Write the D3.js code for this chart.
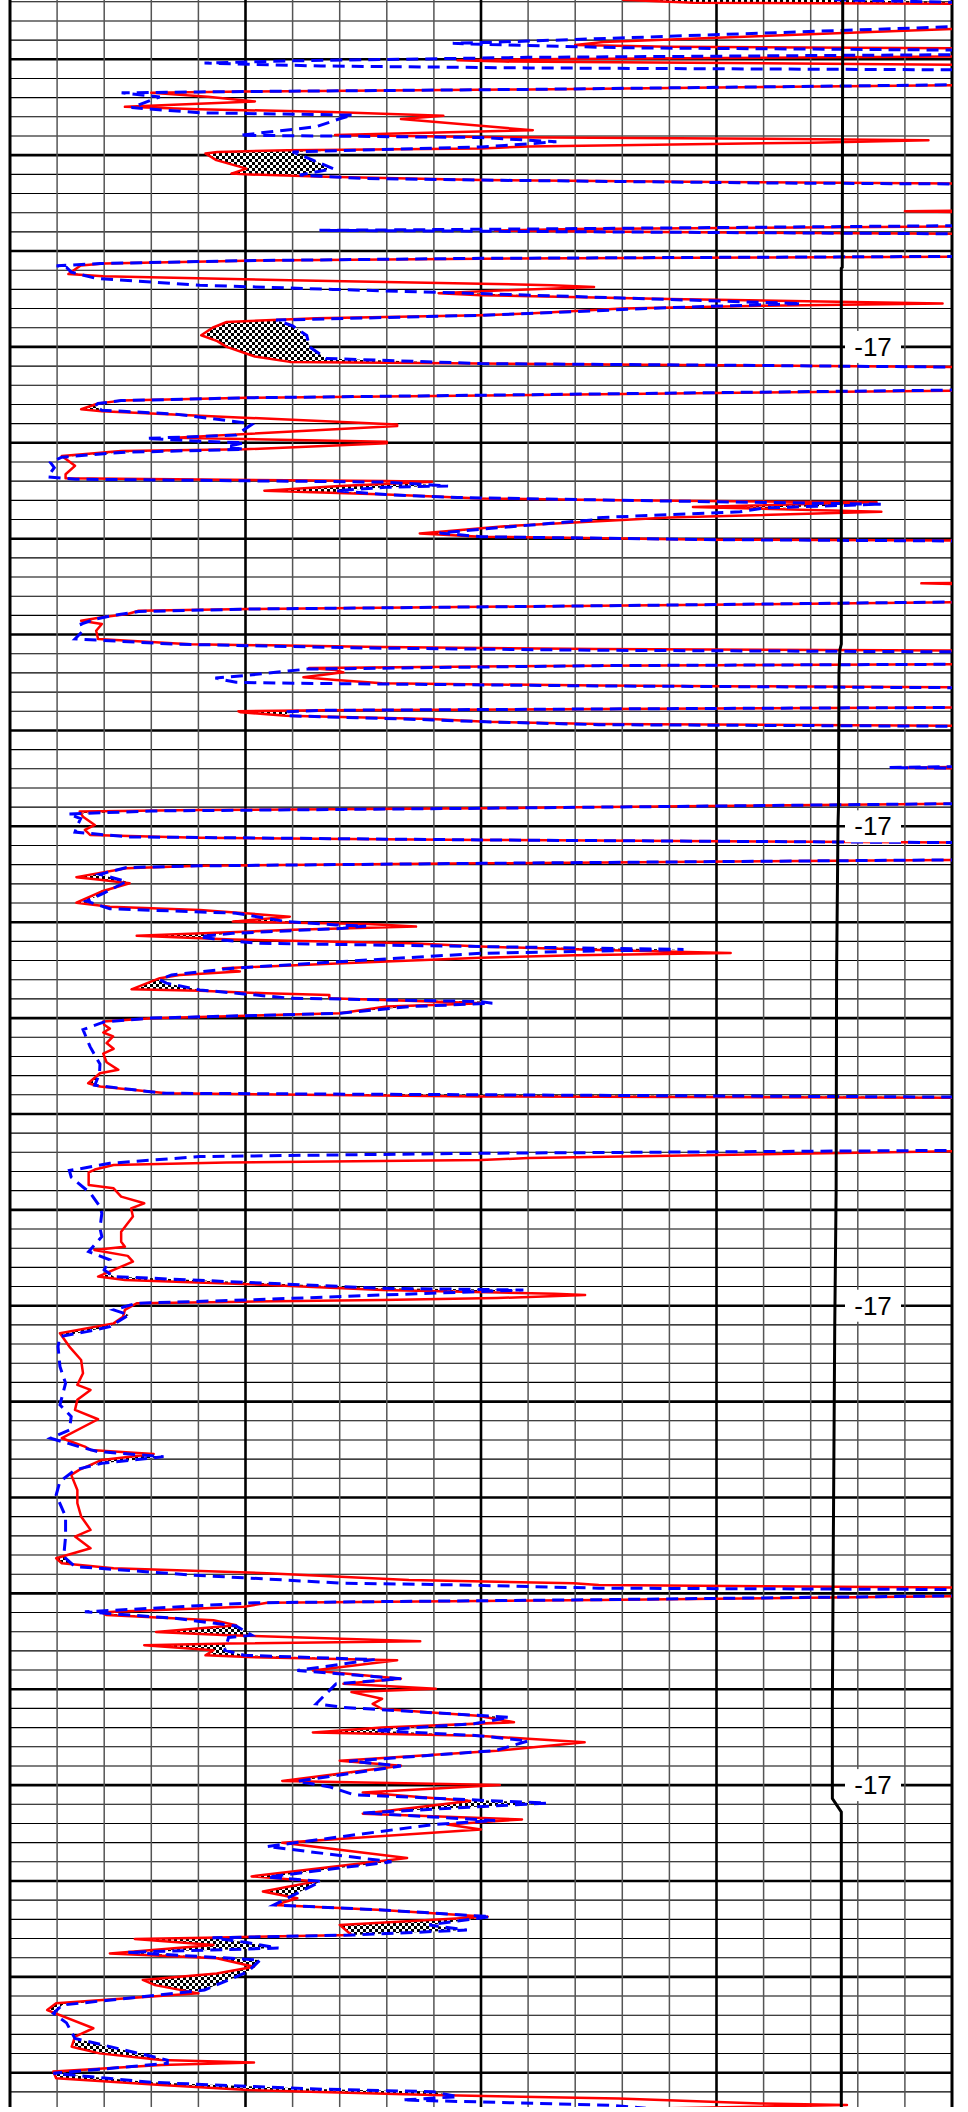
<!DOCTYPE html>
<html>
<head>
<meta charset="utf-8">
<script src="https://cdn.jsdelivr.net/npm/d3@7/dist/d3.min.js"></script>
<style>
  body { margin: 0; background: #fff; }
  svg { display: block; }
</style>
</head>
<body>
<svg id="chart" width="968" height="2112"></svg>
<script>
const redCurve = [
  [1706.9, 13.0], [1707.05, 14.5], [1707.12, 21.5],
  [1708.3, 21.5], [1708.42, 20], [1709.1, 12.6], [1709.25, 12.0], [1709.35, 14], [1709.42, 20], [1709.47, 21.5],
  [1709.75, 21.5], [1709.85, 20], [1710.0, 11], [1710.05, 9.5], [1710.12, 10.5], [1710.28, 20], [1710.33, 21.5],
  [1711.3, 21.5], [1711.35, 20], [1711.57, 11], [1711.68, 5], [1711.75, 3.0], [1711.95, 4.2], [1712.2, 5.2], [1712.32, 4.0],
  [1712.48, 2.44], [1712.6, 4.0], [1712.75, 6.8], [1712.95, 9.2], [1713.12, 8.3], [1713.7, 11.1], [1713.95, 6.9], [1714.05, 10],
  [1714.15, 16], [1714.22, 19.5], [1714.35, 17], [1714.55, 11], [1714.65, 10], [1714.75, 5.9], [1714.83, 4.4], [1714.91, 4.15],
  [1715.26, 4.38], [1715.7, 5.02], [1715.96, 4.7], [1716.0, 5.0], [1716.13, 6.7], [1716.3, 10], [1716.4, 15], [1716.48, 20], [1716.53, 21.5],
  [1717.85, 21.5], [1717.93, 19.0], [1718.0, 21.5],
  [1718.65, 21.5], [1718.72, 20], [1718.85, 12], [1718.93, 10.3], [1719.0, 13], [1719.1, 20], [1719.15, 21.5],
  [1720.25, 21.5], [1720.3, 20], [1720.4, 10], [1720.5, 5], [1720.65, 2], [1720.75, 1.5], [1721.2, 1.24], [1721.31, 1.98],
  [1721.52, 5.94], [1721.7, 10], [1721.78, 11.5], [1721.87, 12.4], [1722.05, 10.5], [1722.2, 9.1], [1722.3, 10], [1722.5, 14],
  [1722.74, 19.8], [1722.85, 16], [1723.0, 13], [1723.26, 11], [1723.35, 10], [1723.5, 6.5], [1723.7, 4.6], [1724.0, 4.3],
  [1724.39, 4.06], [1724.7, 4.4], [1725.0, 4.6], [1725.5, 5.2], [1725.78, 5.94], [1725.87, 10], [1725.95, 15], [1726.05, 20], [1726.1, 21.5],
  [1727.2, 21.5], [1727.28, 20], [1727.47, 12.5], [1727.65, 5.05], [1727.8, 2.36], [1727.95, 1.87], [1728.25, 1.51], [1728.35, 1.95],
  [1728.69, 4.97], [1729.04, 8.22], [1729.12, 8.22], [1729.35, 6.5], [1729.73, 3.5], [1729.95, 8.0], [1730.02, 8.0], [1730.34, 4.97],
  [1730.43, 2.36], [1730.69, 1.1], [1731.2, 1.38], [1731.64, 1.18], [1731.85, 1.18], [1731.9, 3.5], [1731.99, 7.98], [1732.03, 8.96],
  [1732.25, 7.0], [1732.5, 5.4], [1732.7, 8.0], [1732.9, 10.0], [1733.0, 13], [1733.1, 18.4], [1733.35, 14.5], [1733.6, 18.5],
  [1733.9, 14], [1734.35, 10.5], [1734.73, 8.7], [1734.9, 10], [1735.05, 15], [1735.1, 20], [1735.15, 21.5],
  [1737.25, 21.5], [1737.33, 19.35], [1737.42, 21.5],
  [1738.28, 21.5], [1738.32, 20], [1738.5, 12.5], [1738.67, 5.05], [1738.76, 2.73], [1738.93, 2.5], [1739.1, 1.95], [1739.28, 1.51],
  [1739.45, 1.95], [1739.8, 1.83], [1740.23, 1.87], [1740.5, 3.83], [1740.65, 7.9], [1740.75, 12.5], [1740.83, 20], [1740.88, 21.5],
  [1741.5, 21.5], [1741.55, 20], [1741.62, 12.5], [1741.74, 6.35], [1741.85, 6.9], [1741.97, 7.08], [1742.23, 6.23], [1742.37, 6.92],
  [1742.54, 7.9], [1742.66, 12.5], [1742.75, 20], [1742.8, 21.5],
  [1743.75, 21.5], [1743.8, 20], [1743.88, 12.5], [1743.95, 6.7], [1744.0, 4.85], [1744.05, 4.9], [1744.23, 5.86], [1744.4, 8.96],
  [1744.55, 10.1], [1744.66, 12.5], [1744.75, 20], [1744.8, 21.5],
  [1746.85, 21.5], [1746.94, 19.0], [1747.02, 21.5],
  [1748.78, 21.5], [1748.82, 20], [1749.0, 12], [1749.06, 10], [1749.15, 4], [1749.23, 1.48], [1749.5, 1.55], [1749.93, 1.8],
  [1750.19, 1.59], [1750.45, 1.7], [1750.6, 4], [1750.71, 10], [1750.85, 20], [1750.9, 21.5],
  [1751.7, 21.5], [1751.75, 20], [1751.93, 10], [1752.06, 4.03], [1752.19, 2.47], [1752.65, 1.41], [1752.79, 1.91], [1752.97, 2.54],
  [1753.4, 1.94], [1753.98, 1.41], [1754.19, 2.12], [1754.36, 4.03], [1754.71, 5.94], [1754.97, 4.73], [1755.1, 7.6], [1755.23, 8.62],
  [1755.4, 6.0], [1755.71, 2.69], [1755.9, 4.73], [1756.1, 8.5], [1756.27, 10], [1756.45, 12.5], [1756.6, 15.3], [1756.72, 12],
  [1756.85, 10], [1757.14, 7.07], [1757.4, 4.52], [1757.57, 4.88], [1757.75, 3.6], [1757.92, 3.18], [1758.5, 2.58], [1758.57, 4.03],
  [1758.71, 5.44], [1758.8, 6.78], [1758.97, 6.78], [1759.23, 10.06], [1759.4, 8], [1759.75, 7.0], [1760.01, 3.0], [1760.18, 1.98],
  [1760.35, 2.0], [1760.55, 2.12], [1760.75, 1.98], [1760.95, 2.19], [1761.3, 2.05], [1761.6, 2.2], [1761.85, 1.98], [1762.3, 2.05],
  [1762.7, 2.3], [1762.88, 1.91], [1763.4, 1.66], [1763.57, 1.91], [1763.92, 3.32], [1764.09, 10], [1764.15, 20], [1764.2, 21.5],
  [1766.9, 21.5], [1766.95, 20], [1767.3, 11], [1767.4, 10], [1767.53, 4.6], [1767.66, 2.2], [1767.9, 1.8], [1768.05, 1.67],
  [1768.7, 1.67], [1768.88, 2.2], [1769.31, 2.36], [1769.66, 2.85], [1769.92, 2.57], [1770.35, 2.61], [1771.14, 2.36], [1771.66, 2.36],
  [1771.92, 2.44], [1772.09, 1.79], [1772.4, 2.5], [1772.7, 2.61], [1773.48, 1.87], [1773.66, 2.44], [1773.92, 5.46], [1774.18, 7.9],
  [1774.38, 11.56], [1774.44, 12.21], [1774.6, 10.34], [1774.7, 7.9], [1774.8, 4.64], [1774.87, 2.69], [1775.22, 2.44], [1775.57, 2.4],
  [1775.92, 2.2], [1776.44, 1.06], [1777.13, 1.26], [1777.83, 1.51], [1778.52, 1.55], [1779.13, 1.43], [1779.39, 1.71], [1779.91, 1.43],
  [1780.43, 1.38], [1780.92, 1.87], [1781.91, 1.1], [1782.35, 1.59], [1782.52, 1.71], [1782.73, 3.05], [1783.04, 1.95], [1783.56, 1.47],
  [1783.82, 1.3], [1784.61, 1.43], [1785.3, 1.43], [1785.99, 1.51], [1786.69, 1.71], [1787.04, 1.38], [1787.65, 1.71], [1788.17, 0.98],
  [1788.43, 1.1], [1788.69, 2.2], [1788.95, 5.46], [1789.3, 8.47], [1789.47, 11.97], [1789.56, 12.5], [1789.7, 20], [1789.75, 21.5],
  [1790.1, 21.5], [1790.15, 20], [1790.35, 12.5], [1790.49, 5.46], [1790.7, 4.97], [1790.96, 2.2], [1791.0, 1.95], [1791.13, 2.04],
  [1791.4, 4.32], [1791.66, 4.8], [1792.01, 3.1], [1792.18, 4.64], [1792.5, 8.71], [1792.62, 4.64], [1792.71, 2.85], [1792.97, 4.32],
  [1793.23, 4.15], [1793.32, 5.05], [1793.49, 8.22], [1794.02, 6.43], [1794.45, 8.3], [1794.72, 7.08], [1794.98, 9.04], [1795.15, 7.25],
  [1795.5, 7.9], [1795.76, 7.7], [1796.03, 7.9], [1796.38, 9.93], [1796.72, 10.7], [1797.0, 7.9], [1797.25, 6.43], [1797.42, 9.93],
  [1797.77, 12.2], [1798.21, 10.34], [1798.73, 7.0], [1798.99, 8.3], [1799.78, 5.78], [1799.99, 10.4], [1800.39, 7.49], [1800.83, 9.77],
  [1801.49, 7.49], [1801.79, 10.87], [1802.05, 9.28], [1802.32, 10.0], [1803.01, 5.78], [1803.8, 8.43], [1804.76, 5.13], [1805.02, 6.5],
  [1805.55, 5.37], [1805.9, 6.1], [1806.25, 5.62], [1806.51, 7.9], [1806.86, 10.14], [1807.29, 7.0], [1807.82, 7.25], [1807.96, 4.15],
  [1808.03, 2.65], [1808.34, 4.32], [1808.78, 2.12], [1809.03, 4.39], [1809.47, 5.18], [1809.82, 4.39], [1810.16, 2.82], [1810.43, 3.08],
  [1810.86, 4.0], [1811.38, 0.98], [1811.73, 0.79], [1812.68, 1.77], [1813.12, 1.38], [1813.64, 1.31], [1813.99, 1.9], [1814.34, 3.21],
  [1814.46, 5.18], [1814.6, 3.21], [1814.94, 0.92], [1815.29, 0.98], [1815.64, 3.21], [1815.9, 5.05], [1816.16, 8.98], [1816.34, 12.92],
  [1816.6, 15.93], [1816.68, 17.77], [1816.85, 14]
]

const blueCurve = [
  [1706.9, 17.5], [1707.1, 21.5],
  [1708.22, 21.5], [1708.3, 20], [1709.05, 11], [1709.17, 9.4], [1709.25, 10.5], [1709.4, 13], [1709.52, 20], [1709.57, 21.5],
  [1709.7, 21.5], [1709.76, 20], [1709.9, 11], [1710.08, 6.0], [1710.2, 4.13], [1710.35, 6.6], [1710.45, 11], [1710.55, 20], [1710.6, 21.5],
  [1711.28, 21.5], [1711.33, 20], [1711.57, 11], [1711.7, 4], [1711.75, 2.37], [1711.96, 3.18], [1712.52, 2.58], [1712.79, 4.03],
  [1712.91, 7.28], [1713.1, 7.0], [1713.52, 6.5], [1713.96, 4.88], [1714.08, 10], [1714.3, 11.6], [1714.5, 10.5], [1714.57, 10],
  [1714.83, 6.0], [1715.26, 6.43], [1715.7, 6.86], [1716.04, 6.15], [1716.22, 7.56], [1716.3, 10], [1716.45, 16], [1716.5, 20], [1716.55, 21.5],
  [1718.6, 21.5], [1718.68, 20], [1718.85, 11], [1718.92, 6.57], [1718.98, 11], [1719.1, 20], [1719.15, 21.5],
  [1720.22, 21.5], [1720.28, 20], [1720.38, 10], [1720.5, 5], [1720.65, 1.91], [1720.77, 0.99], [1720.85, 1.2], [1721.1, 1.3],
  [1721.43, 1.84], [1721.78, 4.03], [1722.0, 6.86], [1722.22, 10], [1722.45, 13], [1722.74, 16.8], [1722.95, 14], [1723.26, 11],
  [1723.35, 10], [1723.6, 5.65], [1723.9, 6.0], [1724.4, 6.3], [1725.0, 6.36], [1725.6, 6.71], [1725.87, 10], [1725.95, 15], [1726.05, 20], [1726.1, 21.5],
  [1727.18, 21.5], [1727.25, 20], [1727.45, 12.5], [1727.65, 5.05], [1727.8, 2.36], [1727.95, 1.87], [1728.08, 1.8], [1728.3, 1.95],
  [1728.5, 3.5], [1728.95, 4.97], [1729.05, 5.13], [1729.6, 4.8], [1729.77, 2.9], [1729.9, 3.9], [1730.0, 4.97], [1730.2, 4.6],
  [1730.34, 4.97], [1730.5, 2.36], [1730.75, 1.1], [1731.03, 0.86], [1731.3, 0.94], [1731.78, 0.8], [1731.9, 1.4], [1731.98, 4.97],
  [1732.05, 7.98], [1732.25, 9.3], [1732.32, 7.98], [1732.5, 6.92], [1732.7, 7.98], [1732.85, 9.5], [1733.0, 13], [1733.2, 18.5],
  [1733.4, 16], [1733.6, 15.5], [1733.9, 12.5], [1734.0, 12.5], [1734.4, 10.5], [1734.7, 9.12], [1734.9, 10], [1735.05, 15], [1735.12, 20], [1735.17, 21.5],
  [1738.26, 21.5], [1738.3, 20], [1738.5, 12.5], [1738.67, 5.05], [1738.8, 2.73], [1739.0, 2.2], [1739.2, 1.8], [1739.45, 1.51],
  [1739.8, 1.55], [1740.23, 1.38], [1740.5, 3.5], [1740.7, 7.5], [1740.82, 12.5], [1740.9, 20], [1740.95, 21.5],
  [1741.5, 21.5], [1741.55, 20], [1741.62, 12.5], [1741.8, 6.31], [1742.14, 4.97], [1742.27, 4.36], [1742.49, 4.8], [1742.54, 6.03],
  [1742.68, 12.5], [1742.77, 20], [1742.82, 21.5],
  [1743.75, 21.5], [1743.8, 20], [1743.88, 12.5], [1743.95, 6.7], [1744.02, 5.9], [1744.23, 5.86], [1744.45, 8.96], [1744.55, 10.1],
  [1744.7, 12.5], [1744.78, 20], [1744.83, 21.5],
  [1746.85, 21.5], [1746.93, 18.67], [1747.0, 21.5],
  [1748.78, 21.5], [1748.82, 20], [1749.06, 10], [1749.2, 3], [1749.36, 1.24], [1749.6, 1.5], [1750.0, 1.42], [1750.3, 1.38],
  [1750.55, 2.5], [1750.71, 10], [1750.85, 20], [1750.9, 21.5],
  [1751.7, 21.5], [1751.75, 20], [1751.93, 10], [1752.06, 4.03], [1752.15, 2.47], [1752.5, 1.91], [1752.88, 2.47], [1753.5, 1.98],
  [1753.9, 1.62], [1754.3, 2.12], [1754.53, 4.8], [1754.97, 5.87], [1755.14, 6.93], [1755.2, 7.56], [1755.32, 7.07], [1755.58, 4.73],
  [1755.76, 4.03], [1755.93, 4.5], [1756.1, 5.3], [1756.27, 10], [1756.42, 14.3], [1756.62, 10], [1757.05, 7.07], [1757.4, 4.73],
  [1757.75, 3.43], [1758.0, 3.18], [1758.18, 3.32], [1758.53, 4.03], [1758.96, 5.94], [1759.14, 10], [1759.23, 10.24], [1759.4, 8.5],
  [1759.75, 7.0], [1760.0, 3.0], [1760.2, 2.0], [1760.6, 1.55], [1761.49, 1.7], [1761.8, 1.77], [1762.4, 1.91], [1762.9, 1.9],
  [1763.5, 1.8], [1763.92, 3.25], [1764.0, 10], [1764.12, 20], [1764.17, 21.5],
  [1766.85, 21.5], [1766.9, 20], [1767.05, 10], [1767.22, 4.03], [1767.57, 2.12], [1767.83, 1.55], [1767.95, 1.26], [1768.3, 1.3],
  [1769.14, 1.71], [1769.83, 1.91], [1770.18, 1.95], [1770.96, 1.91], [1771.4, 1.95], [1772.18, 1.67], [1772.61, 2.12], [1773.13, 2.0],
  [1773.48, 2.2], [1773.83, 5.46], [1774.09, 7.9], [1774.18, 10.9], [1774.44, 7.9], [1774.7, 5.05], [1774.87, 2.69], [1775.22, 2.2],
  [1775.48, 2.52], [1776.09, 2.12], [1776.35, 1.63], [1776.61, 1.06], [1777.13, 1.02], [1778.17, 1.06], [1779.04, 1.18], [1780.17, 1.06],
  [1780.78, 1.3], [1781.48, 1.26], [1781.91, 0.86], [1782.35, 1.47], [1782.61, 1.87], [1782.87, 3.26], [1783.22, 1.95], [1783.56, 1.38],
  [1784.17, 1.06], [1784.87, 0.98], [1785.99, 1.18], [1787.04, 1.18], [1788.08, 1.14], [1788.6, 1.38], [1789.04, 3.83], [1789.47, 7.08],
  [1789.56, 9.53], [1789.73, 12.5], [1789.8, 20], [1789.85, 21.5],
  [1790.08, 21.5], [1790.13, 20], [1790.33, 12.5], [1790.49, 5.2], [1790.96, 1.59], [1791.3, 3.5], [1791.7, 4.8], [1792.18, 5.13],
  [1792.3, 4.64], [1792.97, 4.56], [1793.23, 4.97], [1793.45, 7.74], [1794.02, 6.1], [1794.45, 8.3], [1794.72, 6.92], [1795.76, 6.5],
  [1795.95, 7.08], [1796.46, 10.6], [1796.8, 9.85], [1797.15, 7.74], [1797.42, 9.93], [1797.7, 11.0], [1798.2, 10.3], [1798.75, 7.2],
  [1799.0, 8.3], [1799.8, 6.1], [1800.1, 6.8], [1800.5, 7.3], [1800.94, 11.4], [1801.45, 7.5], [1801.85, 10.3], [1802.05, 9.0],
  [1803.2, 5.46], [1804.0, 8.1], [1804.35, 6.9], [1804.8, 5.46], [1805.02, 6.6], [1806.25, 5.6], [1806.51, 7.9], [1806.86, 10.2],
  [1807.29, 8.9], [1807.56, 9.7], [1807.82, 7.25], [1807.96, 4.3], [1808.2, 5.0], [1808.5, 5.7], [1808.72, 2.5], [1809.12, 5.31],
  [1809.73, 5.05], [1810.69, 4.13], [1811.47, 1.11], [1811.9, 0.92], [1812.4, 1.2], [1813.21, 1.38], [1814.34, 3.34], [1814.51, 3.34],
  [1815.03, 0.92], [1815.5, 3.0], [1815.85, 6.5], [1815.99, 8.98], [1816.25, 9.51], [1816.42, 8.33], [1816.7, 12.79], [1816.85, 13.5]
]

const blackCurve = [
  [1706.9, 17.68], [1720.85, 17.67], [1720.9, 17.65], [1740.5, 17.65], [1740.8, 17.62], [1742.0, 17.6],
  [1749.0, 17.59], [1749.9, 17.58], [1757.6, 17.55], [1769.0, 17.54], [1776.2, 17.51], [1787.4, 17.48],
  [1795.8, 17.46], [1800.7, 17.46], [1801.4, 17.65], [1816.85, 17.65]
]

const labelDepths = [1725, 1750, 1775, 1800]
const labelTexts = ['-17', '-17', '-17', '-17']

let plot = { left: 10, right: 952, top: 0, bottom: 2107 }

let x = d3.scaleLinear().domain([0, 20]).range([plot.left, plot.right])
let y = d3.scaleLinear().domain([1707, 1817]).range([1.76, 2111.1])

const svg = d3.select('#chart')

let defs = svg.append('defs')
defs.append('clipPath').attr('id', 'plotClip')
  .append('rect')
  .attr('x', plot.left).attr('y', plot.top)
  .attr('width', plot.right - plot.left).attr('height', plot.bottom - plot.top)

let pat = defs.append('pattern').attr('id', 'checker')
  .attr('width', 6).attr('height', 6).attr('patternUnits', 'userSpaceOnUse')
pat.append('rect').attr('width', 6).attr('height', 6).attr('fill', '#fff')
pat.append('rect').attr('width', 3).attr('height', 3).attr('fill', '#000')
pat.append('rect').attr('x', 3).attr('y', 3).attr('width', 3).attr('height', 3).attr('fill', '#000')

// grid
let grid = svg.append('g').attr('class', 'grid')
grid.selectAll('line.h')
  .data(d3.range(1707, 1817))
  .enter()
  .append('line')
  .attr('class', 'h')
  .attr('x1', plot.left).attr('x2', plot.right)
  .attr('y1', d => y(d)).attr('y2', d => y(d))
  .attr('stroke', '#000')
  .attr('stroke-width', d => (d % 5 === 0 ? 2.6 : 1.1))

grid.selectAll('line.v')
  .data(d3.range(0, 21))
  .enter()
  .append('line')
  .attr('class', 'v')
  .attr('x1', d => x(d)).attr('x2', d => x(d))
  .attr('y1', plot.top).attr('y2', plot.bottom)
  .attr('stroke', d => (d % 5 === 0 ? '#000' : '#555'))
  .attr('stroke-width', d => (d === 0 || d === 20 ? 3 : d % 5 === 0 ? 2.6 : 1.5))

// checker fill where red sits left of blue
function valueAt(curve, d) {
  let i = d3.bisector(p => p[0]).left(curve, d)
  if (i === 0) return curve[0][1]
  if (i >= curve.length) return curve[curve.length - 1][1]
  let a = curve[i - 1]
  let b = curve[i]
  if (b[0] === a[0]) return b[1]
  let t = (d - a[0]) / (b[0] - a[0])
  return a[1] + t * (b[1] - a[1])
}

let lo = Math.max(redCurve[0][0], blueCurve[0][0])
let hi = Math.min(redCurve[redCurve.length - 1][0], blueCurve[blueCurve.length - 1][0])
let depths = Array.from(new Set(redCurve.map(p => p[0]).concat(blueCurve.map(p => p[0]))))
  .filter(d => d >= lo && d <= hi)
  .sort((a, b) => a - b)

let rows = []
depths.forEach(d => {
  let r = valueAt(redCurve, d)
  let b = valueAt(blueCurve, d)
  if (rows.length) {
    let prev = rows[rows.length - 1]
    let s0 = prev.b - prev.r
    let s1 = b - r
    if (s0 * s1 < 0) {
      let t = s0 / (s0 - s1)
      let rc = prev.r + t * (r - prev.r)
      rows.push({ d: prev.d + t * (d - prev.d), r: rc, b: rc })
    }
  }
  rows.push({ d: d, r: r, b: b })
})

let curves = svg.append('g').attr('clip-path', 'url(#plotClip)')

let fillArea = d3.area()
  .y(p => y(p.d))
  .x0(p => x(p.r))
  .x1(p => x(Math.max(p.r, p.b)))

curves.append('path')
  .datum(rows)
  .attr('d', fillArea)
  .attr('fill', 'url(#checker)')

let line = d3.line()
  .x(p => x(p[1]))
  .y(p => y(p[0]))

curves.append('path')
  .datum(redCurve)
  .attr('d', line)
  .attr('fill', 'none')
  .attr('stroke', '#ff0000')
  .attr('stroke-width', 2.5)
  .attr('stroke-linejoin', 'round')

curves.append('path')
  .datum(blueCurve)
  .attr('d', line)
  .attr('fill', 'none')
  .attr('stroke', '#0000ff')
  .attr('stroke-width', 3)
  .attr('stroke-dasharray', '12,7')

curves.append('path')
  .datum(blackCurve)
  .attr('d', line)
  .attr('fill', 'none')
  .attr('stroke', '#000')
  .attr('stroke-width', 3)

// depth labels
let labels = svg.append('g')
  .selectAll('g')
  .data(labelDepths)
  .enter()
  .append('g')
  .attr('transform', d => `translate(873,${y(d)})`)

labels.append('rect')
  .attr('x', -28).attr('y', -16)
  .attr('width', 56).attr('height', 32)
  .attr('fill', '#fff')

labels.append('text')
  .attr('text-anchor', 'middle')
  .attr('y', 9)
  .attr('font-family', 'Liberation Sans, Arial, sans-serif')
  .attr('font-size', 26)
  .attr('fill', '#000')
  .text((d, i) => labelTexts[i])
</script>
</body>
</html>
